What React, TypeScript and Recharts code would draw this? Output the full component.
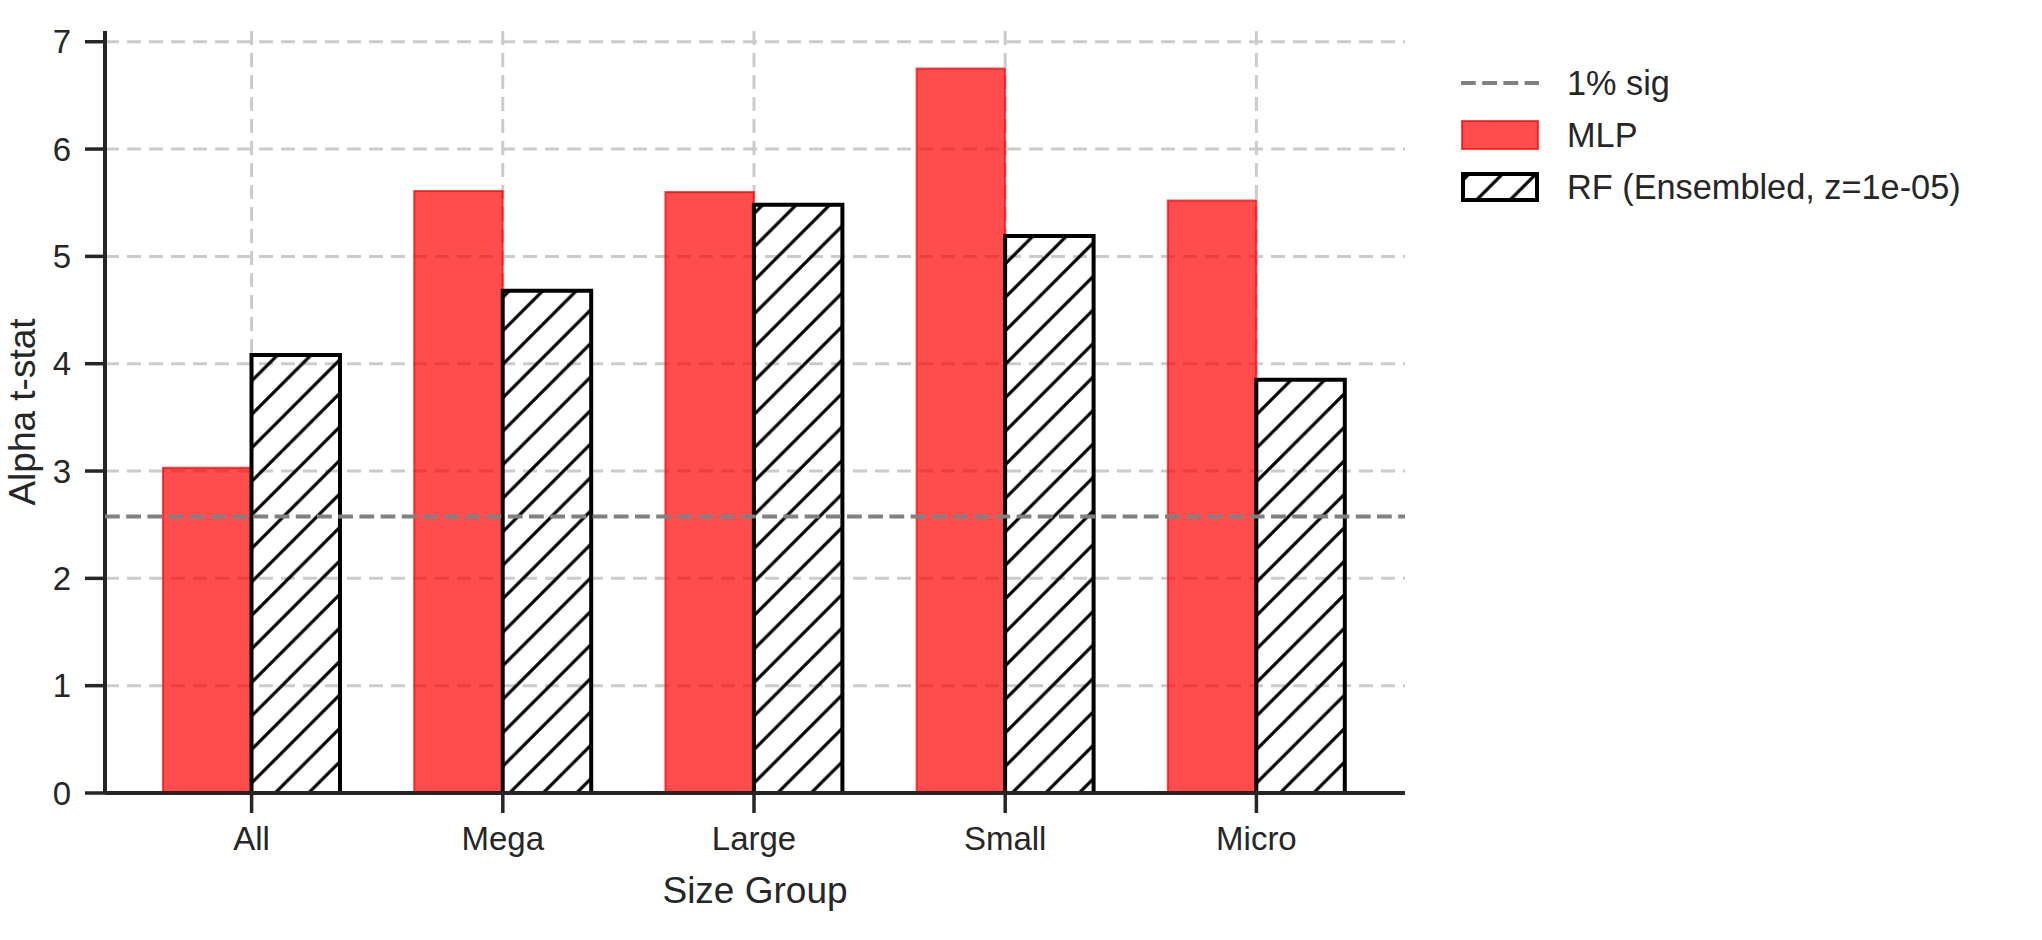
import React from "react";
import {
  BarChart,
  Bar,
  XAxis,
  YAxis,
  CartesianGrid,
  ReferenceLine,
  Legend,
  Label,
} from "recharts";

const FONT = '"Liberation Sans", Arial, Helvetica, sans-serif';
const TEXT = "#262626";

// size groups on the x axis
const categories = ["All", "Mega", "Large", "Small", "Micro"];
// alpha t-stats per model
const mlpValues = [3.03, 5.61, 5.6, 6.75, 5.52];
const rfValues = [4.08, 4.68, 5.48, 5.19, 3.85];
const yTicks = [0, 1, 2, 3, 4, 5, 6, 7];
const sigLevel = 2.576;

const legendLabels = ["1% sig", "MLP", "RF (Ensembled, z=1e-05)"];

const data = categories.map((name, i) => ({
  name,
  mlp: mlpValues[i],
  rf: rfValues[i],
}));

const HATCH = 33.5;

function HatchPattern({ id, shift = 0 }: { id: string; shift?: number }) {
  const d = HATCH;
  return (
    <pattern
      id={id}
      patternUnits="userSpaceOnUse"
      width={d}
      height={d}
      patternTransform={`translate(${shift},0)`}
    >
      <path
        d={`M${-d / 4},${d / 4} L${d / 4},${-d / 4} M0,${d} L${d},0 M${(3 * d) / 4},${(5 * d) / 4} L${(5 * d) / 4},${(3 * d) / 4}`}
        stroke="#000"
        strokeWidth={3.2}
      />
    </pattern>
  );
}

function LegendSwatch({ index }: { index: number }) {
  if (index === 0) {
    return (
      <svg width={78} height={30}>
        <line x1={0} y1={15} x2={78} y2={15} stroke="#808080" strokeWidth={4} strokeDasharray="14.8 6.4" />
      </svg>
    );
  }
  if (index === 1) {
    return (
      <svg width={78} height={30}>
        <rect x={1} y={1} width={76} height={28} fill="#ff0000" fillOpacity={0.7} stroke="#ff0000" strokeOpacity={0.7} strokeWidth={2} />
      </svg>
    );
  }
  return (
    <svg width={78} height={30}>
      <defs>
        <HatchPattern id="legendHatch" shift={10} />
      </defs>
      <rect x={2} y={2} width={74} height={26} fill="url(#legendHatch)" stroke="#000" strokeWidth={4} />
    </svg>
  );
}

const LegendContent = () => (
  <div style={{ fontFamily: FONT, fontSize: 34.3, color: TEXT }}>
    {legendLabels.map((label, i) => (
      <div key={label} style={{ display: "flex", alignItems: "center", height: 52 }}>
        <LegendSwatch index={i} />
        <span style={{ marginLeft: 28, whiteSpace: "nowrap" }}>{label}</span>
      </div>
    ))}
  </div>
);

const YLabel = ({ viewBox }: any) => {
  const cy = viewBox.y + viewBox.height / 2;
  const x = 35;
  return (
    <text
      x={x}
      y={cy}
      transform={`rotate(-90, ${x}, ${cy})`}
      textAnchor="middle"
      fontSize={37}
      fontFamily={FONT}
      fill={TEXT}
    >
      Alpha t-stat
    </text>
  );
};

export default function App() {
  return (
    <div style={{ position: "absolute", left: 0, top: 0, background: "#fff", fontFamily: FONT }}>
      <BarChart
        width={2042}
        height={940}
        data={data}
        margin={{ top: 31, right: 637, bottom: 0, left: 0 }}
        barGap={0}
        barSize={88.5}
      >
        <defs>
          <HatchPattern id="rfHatch" shift={29.6} />
        </defs>
        <CartesianGrid stroke="#cbcbcb" strokeWidth={3} strokeDasharray="14 8" syncWithTicks />
        <XAxis
          dataKey="name"
          height={147}
          padding={{ left: 21, right: 23 }}
          tickSize={20}
          tickMargin={14}
          axisLine={{ stroke: TEXT, strokeWidth: 4 }}
          tickLine={{ stroke: TEXT, strokeWidth: 3.5 }}
          tick={{ fontSize: 33, fill: TEXT, fontFamily: FONT }}
        >
          <Label
            value="Size Group"
            position="insideBottom"
            offset={37}
            style={{ fontSize: 37, fill: TEXT, fontFamily: FONT }}
          />
        </XAxis>
        <YAxis
          type="number"
          width={105}
          domain={[0, 7.1]}
          ticks={yTicks}
          tickSize={20}
          tickMargin={14}
          axisLine={{ stroke: TEXT, strokeWidth: 4 }}
          tickLine={{ stroke: TEXT, strokeWidth: 3.5 }}
          tick={{ fontSize: 33, fill: TEXT, fontFamily: FONT }}
        >
          <Label content={YLabel} />
        </YAxis>
        <Bar
          dataKey="mlp"
          name="MLP"
          fill="#ff0000"
          fillOpacity={0.7}
          stroke="#ff0000"
          strokeOpacity={0.7}
          strokeWidth={2}
          isAnimationActive={false}
        />
        <Bar
          dataKey="rf"
          name="RF (Ensembled, z=1e-05)"
          fill="url(#rfHatch)"
          stroke="#000"
          strokeWidth={4}
          isAnimationActive={false}
        />
        <ReferenceLine
          y={sigLevel}
          stroke="#808080"
          strokeWidth={4}
          strokeDasharray="14.8 6.4"
          zIndex={1000}
        />
        <Legend
          layout="vertical"
          align="center"
          verticalAlign="middle"
          content={LegendContent}
          wrapperStyle={{ left: 1461, top: 57, width: "auto", height: "auto" }}
        />
      </BarChart>
    </div>
  );
}
